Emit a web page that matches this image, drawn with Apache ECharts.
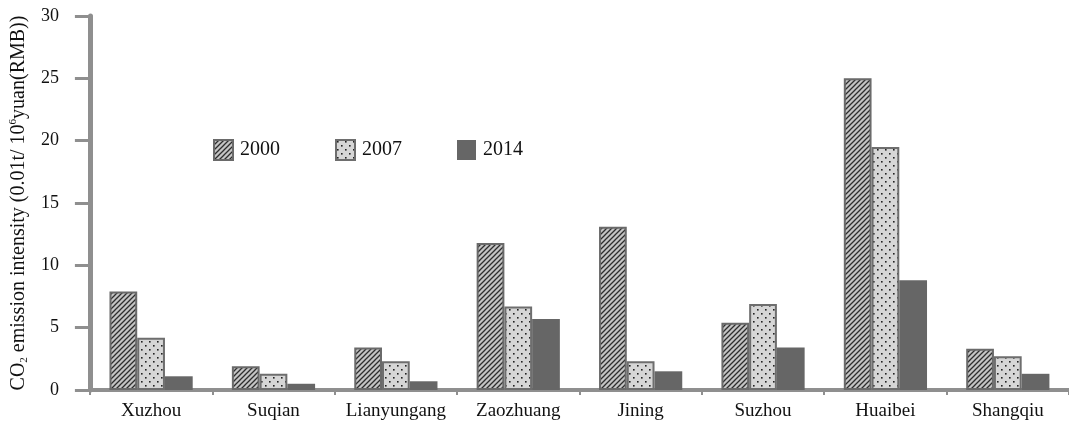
<!DOCTYPE html>
<html>
<head>
<meta charset="utf-8">
<title>CO2 emission intensity by city</title>
<script src="https://cdn.jsdelivr.net/npm/echarts@6/dist/echarts.min.js"></script>
<style>
  html, body { margin: 0; padding: 0; background: #fff; }
  #chart { width: 1069px; height: 423px; }
</style>
</head>
<body>
<div id="chart"></div>
<script>
// Cities on the horizontal axis
const cities = ['Xuzhou', 'Suqian', 'Lianyungang', 'Zaozhuang', 'Jining', 'Suzhou', 'Huaibei', 'Shangqiu'];
// Series names (years)
const years = ['2000', '2007', '2014'];
// CO2 emission intensity, 0.01t / 10^6 yuan (RMB)
const values2000 = [7.9, 1.9, 3.4, 11.8, 13.1, 5.4, 25.0, 3.3];
const values2007 = [4.2, 1.3, 2.3, 6.7, 2.3, 6.9, 19.5, 2.7];
const values2014 = [1.1, 0.5, 0.7, 5.7, 1.5, 3.4, 8.8, 1.3];
// Value axis ticks
const yTicks = { min: 0, max: 30, interval: 5 };

const FONT = '"Liberation Serif", "Times New Roman", serif';

// Diagonal hatch fill
function hatchPattern() {
  const c = document.createElement('canvas');
  c.width = 5; c.height = 5;
  const g = c.getContext('2d');
  g.fillStyle = '#c4c4c4';
  g.fillRect(0, 0, 5, 5);
  g.strokeStyle = '#2e2e2e';
  g.lineWidth = 1.3;
  g.beginPath();
  g.moveTo(-1, 6); g.lineTo(6, -1);
  g.moveTo(-4, 4); g.lineTo(4, -4);
  g.moveTo(1, 9); g.lineTo(9, 1);
  g.stroke();
  return c;
}

// Dotted fill
function dotPattern() {
  const c = document.createElement('canvas');
  c.width = 8; c.height = 8;
  const g = c.getContext('2d');
  g.fillStyle = '#d6d6d6';
  g.fillRect(0, 0, 8, 8);
  g.fillStyle = '#222';
  g.fillRect(1, 1, 1.6, 1.6);
  g.fillRect(5, 5, 1.6, 1.6);
  return c;
}

const styles = [
  { color: { image: hatchPattern(), repeat: 'repeat' }, borderColor: '#6a6a6a', borderWidth: 2 },
  { color: { image: dotPattern(), repeat: 'repeat' }, borderColor: '#6e6e6e', borderWidth: 2 },
  { color: '#666666', borderColor: '#666666', borderWidth: 0 }
];
const seriesData = [values2000, values2007, values2014];

const chart = echarts.init(document.getElementById('chart'));
chart.setOption({
  animation: false,
  backgroundColor: '#ffffff',
  textStyle: { fontFamily: FONT },
  grid: { left: 89, right: -5, top: 16, bottom: 33, containLabel: false },
  legend: {
    data: years,
    left: 208,
    top: 134,
    itemWidth: 19,
    itemHeight: 20,
    itemGap: 55,
    icon: 'rect',
    textStyle: { fontFamily: FONT, fontSize: 20, color: '#111', padding: [0, 0, 0, 2] }
  },
  xAxis: {
    type: 'category',
    data: cities,
    axisLine: { lineStyle: { color: '#8f8f8f', width: 4 } },
    axisTick: { show: true, interval: 0, length: 5, lineStyle: { color: '#8f8f8f', width: 2 } },
    axisLabel: { interval: 0, hideOverlap: false, fontFamily: FONT, fontSize: 19, color: '#111', margin: 12 }
  },
  yAxis: {
    type: 'value',
    min: yTicks.min,
    max: yTicks.max,
    interval: yTicks.interval,
    splitLine: { show: false },
    axisLine: { show: true, lineStyle: { color: '#8f8f8f', width: 5 } },
    axisTick: { show: true, length: 15, lineStyle: { color: '#8f8f8f', width: 3 } },
    axisLabel: { fontFamily: FONT, fontSize: 18, color: '#111', margin: 31 },
    name: '{n|CO}{sub|2}{n| emission intensity (0.01t/ 10}{sup|6}{n|yuan(RMB))}',
    nameLocation: 'middle',
    nameGap: 54,
    nameRotate: 90,
    nameTextStyle: {
      rich: {
        n: { fontFamily: FONT, fontSize: 20, color: '#111' },
        sub: { fontFamily: FONT, fontSize: 11, color: '#111', padding: [11, 0, 0, 0] },
        sup: { fontFamily: FONT, fontSize: 11, color: '#111', padding: [0, 0, 11, 0] }
      }
    }
  },
  series: years.map((y, i) => ({
    name: y,
    type: 'bar',
    data: seriesData[i],
    barGap: '0%',
    barCategoryGap: '32%',
    itemStyle: styles[i]
  }))
});
</script>
</body>
</html>
